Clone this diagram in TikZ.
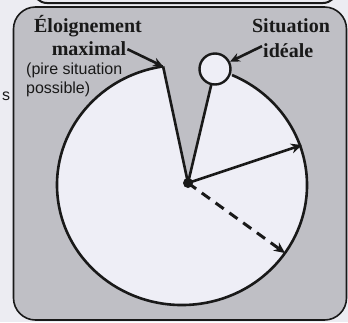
\documentclass[tikz,border=0pt]{standalone}
\usepackage{fontspec}
\setmainfont{Liberation Serif}
\newfontfamily\sansf{Liberation Sans}
\usetikzlibrary{arrows.meta}
\definecolor{outerbg}{RGB}{236,236,242}
\definecolor{boxgrey}{RGB}{191,191,197}
\definecolor{disc}{RGB}{238,238,246}
\definecolor{ink}{RGB}{25,25,25}
\tikzset{
  frame/.style={draw=ink,line width=1.6pt},
  rim/.style={draw=ink,line width=2.6pt,line join=round},
  ray/.style={draw=ink,line width=2.6pt,-{Stealth[length=11pt,width=10pt]}},
  lbl/.style={font=\fontsize{20}{24}\selectfont\bfseries,inner sep=0pt,text=ink},
  note/.style={font=\sansf\fontsize{16}{19}\selectfont,inner sep=0pt,text=ink},
  pointer/.style={draw=ink,line width=2.6pt,-{Stealth[length=10pt,width=9pt]}}
}
\begin{document}
\begin{tikzpicture}[x=1pt,y=1pt]
\useasboundingbox (0,0) rectangle (348,-322);
\fill[outerbg] (0,0) rectangle (348,-322);
\begin{scope}
\clip (0,0) rectangle (348,-322);
\draw[frame,line width=2pt,rounded corners=14pt] (33,30) -- (33,-3) -- (337,-3) -- (337,30);
\end{scope}
% main box
\draw[frame,fill=boxgrey,rounded corners=22pt] (13.5,-7) rectangle (346.5,-320);
% coordinates
\coordinate (D) at (188,-183);
\coordinate (A) at (163.1,-66.4);
\coordinate (S) at (215,-69);
\coordinate (T1) at (302,-145);
\coordinate (T2) at (285,-253);
% disc with wedge removed
\fill[disc] (D) -- (A) arc[start angle=98.7,end angle=426.4,x radius=125,y radius=120] -- (S) -- cycle;
\draw[rim] (A) arc[start angle=98.7,end angle=426.4,x radius=125,y radius=120];
\draw[rim] (D) -- (A);
\draw[rim] (D) -- (S);
\node[circle,draw=ink,line width=2.4pt,fill=disc,minimum size=31pt,inner sep=0pt] (sc) at (S) {};
% radii
\draw[ray] (D) -- (T1);
\draw[ray,dash pattern=on 10pt off 7pt,line width=3pt] (D) -- (T2);
\fill[ink] (D) circle (5);
% labels
\node[lbl,anchor=base] (e1) at (88,-32) {Éloignement};
\node[lbl,anchor=base] (e2) at (89,-55) {maximal};
\node[lbl,anchor=base] (s1) at (291,-32) {Situation};
\node[lbl,anchor=base west] (s2) at (263,-57) {idéale};
\node[note,anchor=base west] (n1) at (26,-74) {(pire situation};
\node[note,anchor=base west] (n2) at (26,-93) {possible)};
\node[note,anchor=base west] (ss) at (2,-100) {s};
\draw[pointer] (e2.east) ++(1,-1) coordinate (p1) -- (A);
\draw[pointer] (s2.west) ++(-1,4) coordinate (p2) -- (sc);
\end{tikzpicture}
\end{document}
